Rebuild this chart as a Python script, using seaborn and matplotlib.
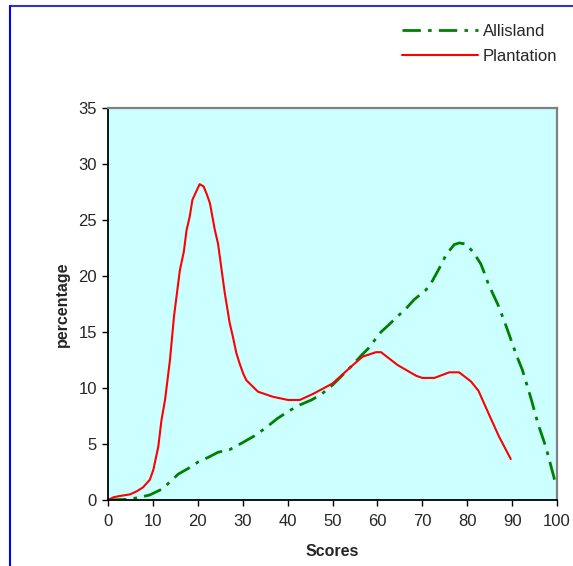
import numpy as np
import pandas as pd
import matplotlib
matplotlib.use("Agg")
import matplotlib.pyplot as plt
from matplotlib.lines import Line2D
import seaborn as sns

# ---- data ----
allisland_x = [0, 4.5, 7.1, 9.3, 11.9, 13.8, 15.6, 17.8, 20.1, 22.3, 24.5, 27.1, 29.7, 32.5,
               35.0, 37.8, 40.4, 42.7, 45.3, 47.5, 50.1, 54.1, 56.4, 57.9, 60.8, 62.7, 64.5,
               66.4, 68.2, 70.8, 72.3, 74.2, 75.3, 77.1, 78.2, 79.0, 79.7, 81.4, 83.0, 83.6,
               84.7, 87.0, 88.6, 91.0, 92.3, 94.2, 95.8, 97.5, 98.2, 99.6]
allisland_y = [0, 0.06, 0.24, 0.45, 0.95, 1.6, 2.3, 2.8, 3.4, 3.8, 4.26, 4.5, 5.06, 5.7,
               6.4, 7.3, 7.97, 8.48, 8.93, 9.43, 10.3, 11.9, 12.9, 13.5, 15.0, 15.7, 16.4,
               17.1, 17.9, 18.75, 19.6, 21.0, 21.9, 22.8, 22.95, 22.9, 22.86, 22.1, 21.1, 20.5,
               19.3, 17.3, 15.6, 12.9, 11.6, 9.08, 6.76, 4.76, 3.72, 1.6]

plantation_x = [0, 1.2, 2.5, 4.9, 6.5, 7.8, 9.3, 10.1, 11.2, 11.9, 12.7, 13.8, 14.7, 16.0,
                16.9, 17.5, 18.2, 18.8, 19.6, 20.4, 21.3, 22.0, 22.7, 23.8, 24.5, 26.0, 27.1,
                27.8, 28.6, 29.3, 30.1, 30.8, 33.4, 36.7, 40.1, 42.7, 45.6, 50.0, 54.4, 56.7,
                59.7, 60.8, 64.5, 68.6, 70.0, 72.7, 76.0, 78.2, 80.8, 82.5, 84.9, 87.1, 89.7]
plantation_y = [0, 0.24, 0.35, 0.5, 0.8, 1.13, 1.8, 2.7, 4.76, 7.1, 8.93, 12.5, 16.4, 20.5,
                22.2, 24.1, 25.3, 26.8, 27.5, 28.2, 28.0, 27.3, 26.5, 24.1, 22.9, 18.5, 15.8,
                14.6, 13.1, 12.2, 11.3, 10.7, 9.67, 9.22, 8.93, 8.93, 9.46, 10.4, 12.0, 12.8,
                13.2, 13.2, 12.05, 11.1, 10.9, 10.9, 11.4, 11.4, 10.6, 9.76, 7.6, 5.65, 3.66]

series_names = ["Allisland", "Plantation"]
x_ticks = list(range(0, 101, 10))
y_ticks = list(range(0, 36, 5))

df = pd.concat([
    pd.DataFrame({"Scores": allisland_x, "percentage": allisland_y, "series": series_names[0]}),
    pd.DataFrame({"Scores": plantation_x, "percentage": plantation_y, "series": series_names[1]}),
], ignore_index=True)

sns.set_style("ticks")
plt.rcParams["font.family"] = ["Liberation Sans", "DejaVu Sans"]

W, H = 573, 566
fig = plt.figure(figsize=(W / 100, H / 100), dpi=100)
ax = fig.add_axes([108 / W, 1 - 500 / H, (557 - 108) / W, (500 - 108) / H])
ax.set_facecolor("#CCFFFF")

DASH = (6.6, 2.6, 1.3, 2.6)
palette = {"Allisland": "#008000", "Plantation": "#FF0000"}
sns.lineplot(data=df[df.series == "Allisland"], x="Scores", y="percentage", ax=ax,
             color=palette["Allisland"], lw=2.0, sort=False, estimator=None,
             label="Allisland")
sns.lineplot(data=df[df.series == "Plantation"], x="Scores", y="percentage", ax=ax,
             color=palette["Plantation"], lw=1.5, sort=False, estimator=None,
             label="Plantation")
ax.lines[0].set_dashes(DASH)

ax.set_xlim(0, 100)
ax.set_ylim(0, 35)
ax.set_xticks(x_ticks)
ax.set_yticks(y_ticks)
ax.tick_params(axis="both", labelsize=12, length=4, width=1, color="black",
               direction="out")
ax.tick_params(axis="x", pad=6)
ax.tick_params(axis="y", pad=4)
ax.set_xlabel("Scores", fontsize=11.5, fontweight="bold", labelpad=11)
ax.set_ylabel("percentage", fontsize=11.5, fontweight="bold", labelpad=6)

for s in ["left", "bottom"]:
    ax.spines[s].set_color("black")
    ax.spines[s].set_linewidth(1.3)
for s in ["top", "right"]:
    ax.spines[s].set_visible(True)
    ax.spines[s].set_color("#808080")
    ax.spines[s].set_linewidth(1.6)

handles, labels = ax.get_legend_handles_labels()
leg = ax.legend(handles, labels, loc="upper left", bbox_to_anchor=(402 / W, 1 - 24 / H),
                bbox_transform=fig.transFigure, frameon=False, fontsize=12,
                handlelength=4.55, handletextpad=0.3, labelspacing=0.62, borderpad=0,
                borderaxespad=0)
leg.get_lines()[0].set_dashes(DASH)

# outer frame (blue lines on top and left)
fig.add_artist(Line2D([10 / W, 1], [1 - 6 / H, 1 - 6 / H], transform=fig.transFigure,
                      color="#3333CC", lw=1.5))
fig.add_artist(Line2D([10 / W, 10 / W], [0, 1 - 6 / H], transform=fig.transFigure,
                      color="#0000FF", lw=1.5))

fig.savefig("out.png", dpi=100)
